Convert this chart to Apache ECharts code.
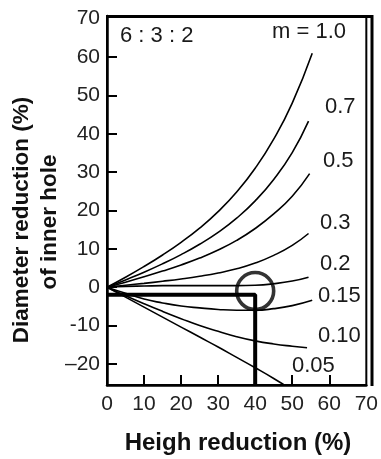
<!DOCTYPE html>
<html>
<head>
<meta charset="utf-8">
<script src="https://cdn.jsdelivr.net/npm/echarts@6/dist/echarts.min.js"></script>
<style>html,body{margin:0;padding:0;background:#fff}#c{width:381px;height:459px}</style>
</head>
<body>
<div id="c"></div>
<script>
// ---- data ----
const heightReduction = [0, 5, 10, 15, 20, 25, 30, 35, 40, 45, 50];
const m100 = [0, 2.6, 5.4, 8.4, 11.7, 15.4, 19.7, 24.8, 31.0, 38.6, 48.0];
const m070 = [0, 1.9, 3.9, 6.1, 8.5, 11.2, 14.3, 18.0, 22.5, 28.1, 35.1];
const m050 = [0, 1.3, 2.7, 4.2, 5.8, 7.6, 9.7, 12.2, 15.3, 19.1, 23.7];
const m030 = [0, 0.5, 1.0, 1.55, 2.15, 2.85, 3.7, 4.8, 6.3, 8.3, 10.9];
const m020 = [0, 0.2, 0.3, 0.4, 0.4, 0.4, 0.4, 0.4, 0.5, 0.9, 1.6];
const m015 = [0, -1.6, -3.1, -4.1, -4.9, -5.4, -5.8, -6.0, -6.0, -5.6, -4.8];
const m010 = [0, -2.2, -4.3, -6.3, -8.2, -10.0, -11.5, -12.9, -14.0, -14.8, -15.4];
const m005 = [0, -2.6, -5.2, -7.8, -10.4, -13.0, -15.6, -18.3, -21.0, -23.8, -26.8];
// last point of each curve beyond x = 50
const curveNames = ['1.0', '0.7', '0.5', '0.3', '0.2', '0.15', '0.10', '0.05'];
const endX = [55.4, 54.4, 54.7, 54.4, 54.4, 55.4, 54.0, null];
const endY = [61.0, 43.3, 29.6, 14.0, 2.6, -3.4, -15.8, null];
// reading guide (thick line) and circle marker
const guideX = [0, 40, 40];
const guideY = [-2, -2, -25.5];
const circleAt = [40, -1];
// axes
const xMin = 0, xMax = 70, yMin = -25.5, yMax = 70.7;
const xLabelValues = [0, 10, 20, 30, 40, 50, 60, 70];
const xTickValues = [10, 20, 30, 40, 50, 60];
const yLabelValues = [-20, -10, 0, 10, 20, 30, 40, 50, 60, 70];
const yLabelTexts = ['\u201320', '-10', '0', '10', '20', '30', '40', '50', '60', '70'];
const yTickValues = [-20, -10, 0, 10, 20, 30, 40, 50, 60];

const FONT = 'Liberation Sans, Arial, Helvetica, sans-serif';
const curves = [m100, m070, m050, m030, m020, m015, m010, m005];
const GRID = { left: 107, right: 9, top: 16, bottom: 74 };
const W = 381, H = 459;
const gx0 = GRID.left, gx1 = W - GRID.right, gy0 = GRID.top, gy1 = H - GRID.bottom;

function pairs(ys, i) {
  const d = heightReduction.map((x, k) => [x, ys[k]]);
  if (endX[i] !== null) d.push([endX[i], endY[i]]);
  return d;
}

const series = curves.map((ys, i) => ({
  name: 'm = ' + curveNames[i],
  type: 'line',
  data: pairs(ys, i),
  smooth: 0.5,
  showSymbol: false,
  clip: true,
  lineStyle: { color: '#000', width: 1.6 },
  z: 3
}));
series.push({
  type: 'line',
  data: guideX.map((x, k) => [x, guideY[k]]),
  showSymbol: false,
  lineStyle: { color: '#000', width: 4 },
  z: 4
});
series.push({
  type: 'scatter',
  data: [circleAt],
  symbol: 'circle',
  symbolSize: 37,
  itemStyle: { color: 'rgba(0,0,0,0)', borderColor: '#000', borderWidth: 3.6 },
  z: 5
});

function txt(text, left, cy) {
  return {
    type: 'text', left: left, top: cy - 12,
    style: { text: text, font: '22px ' + FONT, fill: '#1a1a1a' }
  };
}

const chart = echarts.init(document.getElementById('c'), null, { renderer: 'canvas' });
chart.setOption({
  animation: false,
  textStyle: { fontFamily: FONT },
  grid: { left: GRID.left, right: GRID.right, top: GRID.top, bottom: GRID.bottom, show: true, borderColor: '#000', borderWidth: 2 },
  xAxis: {
    type: 'value', min: xMin, max: xMax,
    axisLine: { show: true, onZero: false, lineStyle: { color: '#000', width: 2.5 } },
    axisTick: { show: true, inside: true, length: 10, customValues: xTickValues, lineStyle: { color: '#000', width: 2 } },
    axisLabel: { customValues: xLabelValues, fontSize: 21, color: '#222', margin: 9, fontFamily: FONT },
    splitLine: { show: false }
  },
  yAxis: {
    type: 'value', min: yMin, max: yMax,
    axisLine: { show: true, onZero: false, lineStyle: { color: '#000', width: 2.5 } },
    axisTick: { show: true, inside: true, length: 10, customValues: yTickValues, lineStyle: { color: '#000', width: 2 } },
    axisLabel: {
      customValues: yLabelValues, fontSize: 21, color: '#222', margin: 7, fontFamily: FONT,
      formatter: v => { const k = yLabelValues.indexOf(v); return k >= 0 ? yLabelTexts[k] : ''; }
    },
    splitLine: { show: false }
  },
  series: series,
  graphic: [
    // top and right sides of the frame, drawn as filled bars
    { type: 'rect', shape: { x: gx0 - 1, y: gy0 - 1, width: gx1 - gx0 + 2, height: 3 }, style: { fill: '#000' } },
    { type: 'rect', shape: { x: gx1 - 1.5, y: gy0 - 1, width: 3, height: gy1 - gy0 + 2 }, style: { fill: '#000' } },
    txt('6 : 3 : 2', 120, 37),
    txt('m = 1.0', 272, 33),
    txt('0.7', 325, 108),
    txt('0.5', 323, 162),
    txt('0.3', 320, 224),
    txt('0.2', 320, 265),
    txt('0.15', 318, 297),
    txt('0.10', 318, 337),
    txt('0.05', 292, 367),
    {
      type: 'text', x: 22, y: 220, rotation: Math.PI / 2,
      style: { text: 'Diameter reduction (%)', font: 'bold 22.5px ' + FONT, fill: '#111', align: 'center', verticalAlign: 'middle' }
    },
    {
      type: 'text', x: 50, y: 222, rotation: Math.PI / 2,
      style: { text: 'of inner hole', font: 'bold 22.5px ' + FONT, fill: '#111', align: 'center', verticalAlign: 'middle' }
    },
    {
      type: 'text', x: 238, y: 443,
      style: { text: 'Heigh reduction (%)', font: 'bold 24px ' + FONT, fill: '#111', align: 'center', verticalAlign: 'middle' }
    }
  ]
});
</script>
</body>
</html>
